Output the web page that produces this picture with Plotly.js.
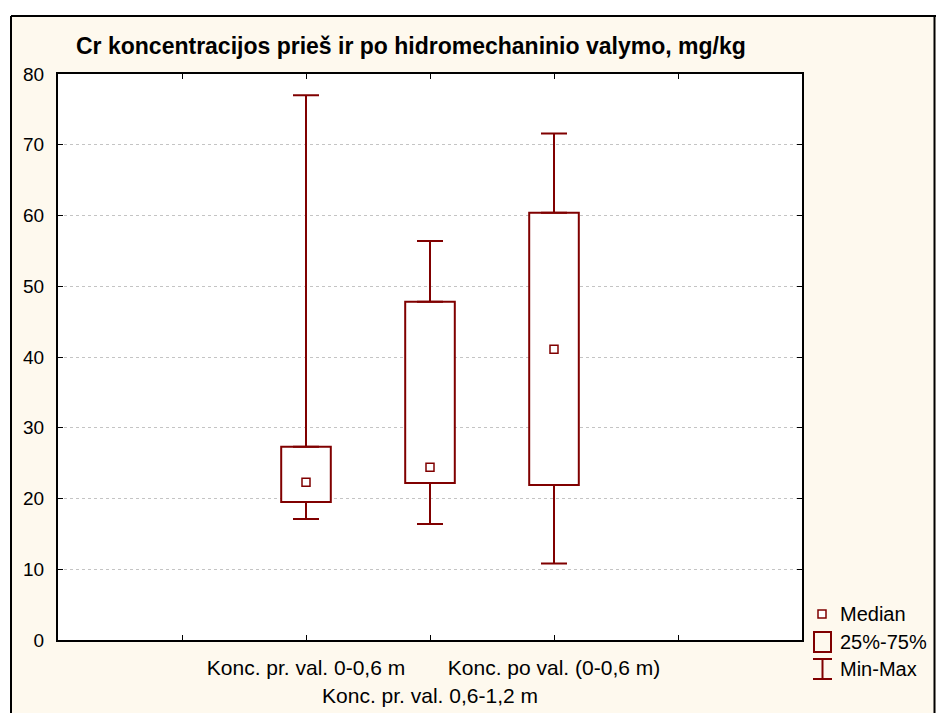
<!DOCTYPE html>
<html>
<head>
<meta charset="utf-8">
<script src="https://cdn.plot.ly/plotly-3.0.1.min.js"></script>
<style>
html,body{margin:0;padding:0;background:#fff;}
#chart{width:936px;height:713px;}
</style>
</head>
<body>
<div id="chart"></div>
<script>
// ---- data ----
const categories = ["Konc. pr. val. 0-0,6 m", "Konc. pr. val. 0,6-1,2 m", "Konc. po val. (0-0,6 m)"];
const minVals    = [17.1, 16.4, 10.8];
const q1Vals     = [19.5, 22.2, 21.9];
const medianVals = [22.3, 24.4, 41.1];
const q3Vals     = [27.3, 47.8, 60.4];
const maxVals    = [77.0, 56.4, 71.6];
const yTickVals  = [0, 10, 20, 30, 40, 50, 60, 70, 80];
const legendLabels = ["Median", "25%-75%", "Min-Max"];
const titleText = "Cr koncentracijos prieš ir po hidromechaninio valymo, mg/kg";

// ---- style ----
const RED = "#800000";
const CREAM = "#FEF9EE";
const FONT = "Liberation Sans, Arial, sans-serif";

// category positions on a linear axis (slots 2,3,4 of 0..6)
const xs = categories.map((c, i) => i + 2);

const traces = [
  { // box 25%-75%
    type: "bar", x: xs, base: q1Vals, y: q3Vals.map((v, i) => v - q1Vals[i]),
    width: 0.4, marker: {color: "#ffffff", line: {color: RED, width: 2}},
    hoverinfo: "skip", showlegend: false
  },
  { // upper whisker
    type: "scatter", mode: "markers", x: xs, y: q3Vals,
    marker: {color: "rgba(0,0,0,0)", size: 1},
    error_y: {type: "data", symmetric: false, array: maxVals.map((v, i) => v - q3Vals[i]),
              arrayminus: q3Vals.map(() => 0), width: 13, thickness: 2, color: RED},
    hoverinfo: "skip", showlegend: false
  },
  { // lower whisker
    type: "scatter", mode: "markers", x: xs, y: q1Vals,
    marker: {color: "rgba(0,0,0,0)", size: 1},
    error_y: {type: "data", symmetric: false, array: q1Vals.map(() => 0),
              arrayminus: q1Vals.map((v, i) => v - minVals[i]), width: 13, thickness: 2, color: RED},
    hoverinfo: "skip", showlegend: false
  },
  { // median
    type: "scatter", mode: "markers", x: xs, y: medianVals,
    marker: {symbol: "square", size: 8, color: "#ffffff", line: {color: RED, width: 1.5}},
    hoverinfo: "skip", showlegend: false
  }
];

// pixel -> paper helpers (plot area 58..802 x, 74..640 y)
const PL = 58, PR = 802, PT = 74, PB = 640;
const px = v => (v - PL) / (PR - PL);
const py = v => (PB - v) / (PB - PT);

const shapes = [
  // white strips outside the cream frame
  {type: "rect", xref: "paper", yref: "paper", x0: px(0), x1: px(936), y0: py(16), y1: py(0),
   fillcolor: "#ffffff", line: {width: 0}, layer: "below"},
  {type: "rect", xref: "paper", yref: "paper", x0: px(0), x1: px(11), y0: py(713), y1: py(0),
   fillcolor: "#ffffff", line: {width: 0}, layer: "below"},
  // frame lines
  {type: "line", xref: "paper", yref: "paper", x0: px(11), x1: px(936), y0: py(16), y1: py(16),
   line: {color: "#000", width: 2}},
  {type: "line", xref: "paper", yref: "paper", x0: px(11), x1: px(11), y0: py(16), y1: py(713),
   line: {color: "#000", width: 2}},
  {type: "line", xref: "paper", yref: "paper", x0: px(934.5), x1: px(934.5), y0: py(16), y1: py(713),
   line: {color: "#000", width: 2}},
  // legend symbols
  {type: "rect", xref: "paper", yref: "paper", x0: px(818), x1: px(826), y0: py(618), y1: py(610),
   fillcolor: "#ffffff", line: {color: RED, width: 1.5}},
  {type: "rect", xref: "paper", yref: "paper", x0: px(814), x1: px(831), y0: py(652), y1: py(632),
   fillcolor: "rgba(0,0,0,0)", line: {color: RED, width: 2}},
  {type: "line", xref: "paper", yref: "paper", x0: px(822.5), x1: px(822.5), y0: py(659), y1: py(679),
   line: {color: RED, width: 2}},
  {type: "line", xref: "paper", yref: "paper", x0: px(813), x1: px(832), y0: py(659), y1: py(659),
   line: {color: RED, width: 2}},
  {type: "line", xref: "paper", yref: "paper", x0: px(813), x1: px(832), y0: py(679), y1: py(679),
   line: {color: RED, width: 2}}
];

const legendY = [614, 642, 669];
const annotations = legendLabels.map((t, i) => ({
  xref: "paper", yref: "paper", x: px(838), y: py(legendY[i]), xanchor: "left", yanchor: "middle",
  text: t, showarrow: false, font: {family: FONT, size: 20, color: "#000"}
}));

const tickText = ["", categories[0], " <br>" + categories[1], categories[2], ""];

const layout = {
  width: 936, height: 713,
  paper_bgcolor: CREAM, plot_bgcolor: "#ffffff",
  margin: {l: PL, r: 936 - PR, t: PT, b: 713 - PB, pad: 0},
  showlegend: false,
  bargap: 0,
  title: {text: "<b>" + titleText + "</b>", xref: "container", yref: "container",
          x: 76 / 936, xanchor: "left", y: 1 - 46 / 713, yanchor: "middle",
          font: {family: FONT, size: 23, color: "#000"}},
  xaxis: {range: [0, 6], tickmode: "array", tickvals: [1, 2, 3, 4, 5], ticktext: tickText,
          tickangle: 0,
          ticks: "inside", ticklen: 5, tickwidth: 1, tickcolor: "#000",
          showline: true, linecolor: "#000", linewidth: 2, mirror: "ticks",
          showgrid: false, zeroline: false, fixedrange: true, ticklabelstandoff: 8,
          tickfont: {family: FONT, size: 21, color: "#000"}},
  yaxis: {range: [0, 80], tickmode: "array", tickvals: yTickVals,
          ticks: "inside", ticklen: 5, tickwidth: 1, tickcolor: "#000",
          showline: true, linecolor: "#000", linewidth: 2, mirror: "ticks",
          showgrid: true, gridcolor: "#c4c4c4", griddash: "dot", gridwidth: 1,
          zeroline: false, fixedrange: true, ticklabelstandoff: 8,
          tickfont: {family: FONT, size: 19, color: "#000"}},
  shapes: shapes,
  annotations: annotations
};

Plotly.newPlot("chart", traces, layout, {staticPlot: true, displayModeBar: false});
</script>
</body>
</html>
